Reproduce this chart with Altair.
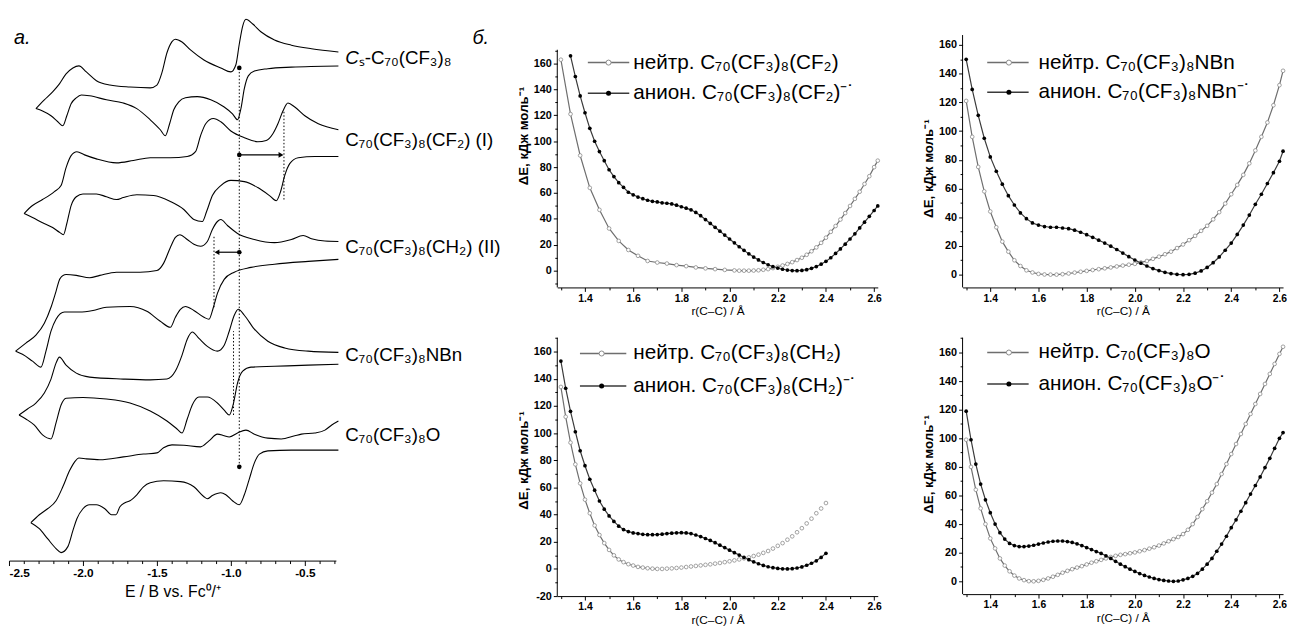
import altair as alt
import pandas as pd

SANS = "Liberation Sans"
NARROW = "Liberation Sans Narrow, Liberation Sans"

# ================= (a) cyclic voltammograms: E / V, I / a.u. =================
CS_TOP_E = [-2.318, -2.261, -2.205, -2.159, -2.114, -2.068, -2.027, -1.977, -1.909, -1.818, -1.682, -1.545, -1.500, -1.466, -1.432, -1.398, -1.375, -1.330, -1.273, -1.182, -1.068, -1.000, -0.966, -0.943, -0.920, -0.898, -0.852, -0.795, -0.705, -0.591, -0.455, -0.273]
CS_TOP_I = [113.3, 115.5, 117.5, 119.5, 122.0, 123.5, 124.0, 122.5, 120.3, 119.2, 118.7, 118.5, 119.2, 122.3, 127.3, 130.1, 130.7, 130.0, 128.0, 125.5, 123.5, 122.5, 124.3, 129.5, 134.0, 135.7, 134.5, 132.5, 130.5, 129.2, 128.3, 127.5]
CS_BOT_E = [-2.318, -2.273, -2.216, -2.170, -2.136, -2.109, -2.080, -2.045, -2.011, -1.955, -1.841, -1.727, -1.636, -1.545, -1.477, -1.443, -1.414, -1.386, -1.352, -1.307, -1.227, -1.136, -1.045, -0.989, -0.955, -0.932, -0.909, -0.882, -0.841, -0.750, -0.591, -0.273]
CS_BOT_I = [113.3, 112.7, 111.5, 110.0, 109.0, 111.5, 114.5, 116.0, 116.7, 116.5, 115.5, 114.7, 113.3, 110.5, 108.0, 106.5, 109.5, 113.0, 115.0, 116.0, 116.3, 115.5, 113.7, 112.0, 110.5, 113.3, 118.3, 121.5, 122.7, 123.3, 123.7, 124.0]

CF2_TOP_E = [-2.398, -2.341, -2.273, -2.193, -2.148, -2.114, -2.080, -2.041, -1.989, -1.909, -1.773, -1.659, -1.545, -1.409, -1.295, -1.239, -1.205, -1.170, -1.118, -1.068, -1.000, -0.909, -0.818, -0.761, -0.716, -0.682, -0.648, -0.614, -0.568, -0.500, -0.409, -0.273]
CF2_TOP_I = [87.0, 89.0, 90.5, 92.5, 94.0, 98.5, 101.5, 102.5, 101.7, 100.7, 99.7, 100.3, 101.0, 101.0, 101.3, 102.5, 106.5, 109.5, 110.8, 110.0, 107.7, 106.0, 105.0, 105.3, 107.0, 109.5, 112.7, 114.7, 113.7, 111.5, 109.5, 108.0]
CF2_BOT_E = [-2.398, -2.341, -2.273, -2.205, -2.159, -2.132, -2.109, -2.080, -2.045, -2.000, -1.909, -1.841, -1.773, -1.727, -1.636, -1.523, -1.409, -1.318, -1.250, -1.193, -1.164, -1.125, -1.068, -1.000, -0.909, -0.818, -0.739, -0.693, -0.664, -0.636, -0.602, -0.545, -0.432, -0.273]
CF2_BOT_I = [87.0, 86.0, 84.7, 83.5, 82.3, 81.7, 84.5, 89.0, 91.2, 91.9, 91.9, 91.2, 90.5, 91.0, 91.7, 91.5, 90.0, 88.0, 85.5, 85.0, 87.5, 91.5, 94.0, 95.3, 95.0, 93.5, 91.5, 90.2, 92.5, 96.5, 99.5, 101.0, 101.3, 101.3]

CH2_TOP_E = [-2.455, -2.386, -2.318, -2.261, -2.216, -2.182, -2.155, -2.114, -2.045, -1.955, -1.886, -1.773, -1.614, -1.500, -1.455, -1.409, -1.375, -1.345, -1.295, -1.250, -1.205, -1.159, -1.125, -1.091, -1.068, -1.023, -0.955, -0.841, -0.705, -0.591, -0.511, -0.455, -0.364, -0.273]
CH2_TOP_I = [52.5, 54.5, 56.5, 59.5, 63.5, 67.5, 70.7, 71.7, 71.5, 70.9, 71.5, 72.3, 72.3, 72.7, 74.5, 78.5, 81.0, 81.7, 80.5, 79.3, 78.8, 80.0, 83.0, 85.0, 85.5, 84.0, 82.0, 80.5, 79.7, 80.5, 81.5, 80.7, 80.1, 80.0]
CH2_BOT_E = [-2.455, -2.409, -2.341, -2.284, -2.250, -2.216, -2.182, -2.125, -2.023, -1.932, -1.841, -1.682, -1.568, -1.477, -1.409, -1.375, -1.341, -1.307, -1.250, -1.182, -1.148, -1.118, -1.091, -1.045, -0.977, -0.864, -0.705, -0.477, -0.273]
CH2_BOT_I = [52.5, 51.7, 50.0, 48.5, 52.5, 57.5, 60.5, 62.3, 62.3, 62.7, 63.5, 63.7, 62.5, 60.0, 58.5, 61.0, 63.0, 63.7, 62.7, 61.0, 60.5, 63.5, 67.0, 70.5, 72.3, 73.5, 74.3, 75.0, 75.5]

NBN_TOP_E = [-2.432, -2.375, -2.318, -2.261, -2.216, -2.182, -2.159, -2.114, -2.045, -1.955, -1.727, -1.545, -1.432, -1.375, -1.330, -1.295, -1.261, -1.216, -1.159, -1.091, -1.045, -1.011, -0.977, -0.950, -0.909, -0.841, -0.750, -0.636, -0.477, -0.273]
NBN_TOP_I = [36.5, 38.0, 39.5, 42.0, 45.5, 49.5, 51.0, 49.0, 47.0, 46.0, 45.5, 45.3, 45.5, 47.5, 51.5, 55.5, 57.3, 55.7, 53.7, 52.5, 54.0, 57.5, 61.5, 63.0, 61.5, 58.0, 55.0, 53.3, 52.5, 52.2]
NBN_BOT_E = [-2.432, -2.386, -2.330, -2.273, -2.216, -2.182, -2.148, -2.114, -2.000, -1.841, -1.682, -1.545, -1.432, -1.364, -1.330, -1.295, -1.261, -1.216, -1.159, -1.091, -1.045, -1.011, -0.982, -0.955, -0.920, -0.864, -0.705, -0.477, -0.273]
NBN_BOT_I = [36.5, 35.5, 34.0, 31.5, 30.5, 34.5, 39.0, 40.7, 40.9, 40.5, 39.5, 37.5, 35.0, 33.0, 32.0, 35.5, 39.0, 41.0, 41.0, 39.5, 37.7, 36.5, 39.5, 44.5, 47.5, 48.5, 48.7, 49.0, 49.2]

O_TOP_E = [-2.352, -2.295, -2.239, -2.182, -2.136, -2.091, -2.057, -2.027, -1.977, -1.886, -1.727, -1.591, -1.500, -1.455, -1.398, -1.318, -1.205, -1.148, -1.091, -1.045, -1.011, -0.955, -0.898, -0.841, -0.750, -0.659, -0.568, -0.523, -0.432, -0.364, -0.318, -0.273]
O_TOP_I = [9.5, 11.5, 13.0, 15.0, 18.5, 22.5, 24.7, 25.7, 25.5, 25.3, 26.0, 26.7, 27.0, 28.3, 29.0, 28.9, 28.5, 30.0, 31.7, 31.3, 31.0, 32.0, 32.7, 31.7, 30.7, 30.5, 31.3, 31.7, 32.0, 32.7, 34.0, 35.0]
O_BOT_E = [-2.352, -2.295, -2.239, -2.182, -2.148, -2.102, -2.068, -2.041, -2.000, -1.955, -1.909, -1.852, -1.807, -1.777, -1.750, -1.716, -1.682, -1.636, -1.591, -1.545, -1.455, -1.341, -1.250, -1.182, -1.159, -1.125, -1.068, -1.034, -0.989, -0.943, -0.909, -0.875, -0.841, -0.807, -0.750, -0.591, -0.273]
O_BOT_I = [9.5, 8.0, 5.5, 3.0, 2.0, 3.5, 7.5, 10.5, 13.0, 14.0, 14.0, 13.0, 11.5, 11.5, 13.5, 14.5, 15.0, 16.5, 18.5, 19.5, 20.0, 19.8, 18.5, 16.0, 15.5, 16.3, 17.0, 16.5, 15.0, 14.0, 16.5, 20.5, 24.5, 26.7, 27.5, 27.7, 27.7]

E_TICKS = [-2.5, -2.4, -2.3, -2.2, -2.1, -2.0, -1.9, -1.8, -1.7, -1.6, -1.5, -1.4, -1.3, -1.2, -1.1, -1.0, -0.9, -0.8, -0.7, -0.6, -0.5, -0.4, -0.3]

# dotted guide lines (E, I from, I to), reference dots, arrows
DOT_E = [-0.943, -0.641, -1.114, -0.982]
DOT_I1 = [23.5, 90.5, 63.5, 36.5]
DOT_I2 = [123.5, 113.0, 81.5, 57.5]
REF_E = [-0.943, -0.943, -0.943, -0.943]
REF_I = [123.5, 101.7, 77.3, 23.5]
ARROW_E0 = [-0.943, -0.943]
ARROW_E1 = [-0.661, -1.094]
ARROW_I = [101.7, 77.3]
ARROW_DIR = ["right", "left"]

LABEL_E = -0.227
LABEL_I = [105.5, 78.5, 51.5, 31.5]
LABEL_TEXT = ["C₇₀(CF₃)₈(CF₂) (I)", "C₇₀(CF₃)₈(CH₂) (II)", "C₇₀(CF₃)₈NBn", "C₇₀(CF₃)₈O"]
FIRST_LABEL_I = 126.0
FIRST_LABEL_TAIL = "ₛ-C₇₀(CF₃)₈"
PANEL_LETTER = ["а.", "б."]
PANEL_LETTER_E = [-2.466, 0.633]
PANEL_LETTER_I = [131.0, 131.0]

# ================= (б) energy profiles: r(C-C) / Å, ΔE / кДж моль-1 =================
R_TICKS = [1.3, 1.4, 1.5, 1.6, 1.7, 1.8, 1.9, 2.0, 2.1, 2.2, 2.3, 2.4, 2.5, 2.6]

CF2_NEU_R = [1.30, 1.34, 1.38, 1.42, 1.46, 1.50, 1.54, 1.58, 1.62, 1.66, 1.70, 1.74, 1.78, 1.82, 1.86, 1.90, 1.94, 1.98, 2.02,
             2.04, 2.06, 2.08, 2.10, 2.12, 2.14, 2.16, 2.18, 2.20, 2.22, 2.24, 2.26, 2.28, 2.30, 2.32, 2.34, 2.36, 2.38,
             2.40, 2.42, 2.44, 2.46, 2.48, 2.50, 2.52, 2.54, 2.56, 2.58, 2.60, 2.615]
CF2_NEU_E = [163, 121, 89, 64, 47, 32.6, 23, 16, 11.5, 7.5, 6.3, 5.5, 4.3, 3.5, 2.5, 1.8, 1.2, 0.6, 0.2,
             0, 0, 0, 0.1, 0.3, 0.7, 1.2, 2, 3, 4, 5.2, 6.6, 8.2, 10, 12.3, 15, 18, 21.5,
             25.5, 30, 34.5, 39.5, 44.5, 50, 55.5, 61, 67, 73, 80, 85]
CF2_ANI_R = [1.34, 1.36, 1.38, 1.40, 1.42, 1.44, 1.46, 1.48, 1.50, 1.52, 1.54, 1.56, 1.58, 1.60, 1.62, 1.64, 1.66, 1.68,
             1.70, 1.72, 1.74, 1.76, 1.78, 1.80, 1.82, 1.84, 1.86, 1.88, 1.90, 1.92, 1.94, 1.96, 1.98, 2.00, 2.02, 2.04,
             2.06, 2.08, 2.10, 2.12, 2.14, 2.16, 2.18, 2.20, 2.22, 2.24, 2.26, 2.28, 2.30, 2.32, 2.34, 2.36, 2.38, 2.40,
             2.42, 2.44, 2.46, 2.48, 2.50, 2.52, 2.54, 2.56, 2.58, 2.60, 2.615]
CF2_ANI_E = [166, 150, 135, 122, 110, 100, 92, 85, 78, 72.7, 68, 64.4, 60.6, 58.6, 56.9, 55.6, 54.4, 53.6,
             53.1, 52.4, 52.1, 51.6, 50.6, 49.4, 48.3, 47, 45, 42.5, 39.5, 36.5, 33.5, 30.5, 27.5, 24.5, 21.5, 18.5,
             15.7, 13, 10.5, 8.3, 6.3, 4.6, 3.1, 2, 1.1, 0.5, 0.1, 0, 0.2, 0.8, 1.8, 3.2, 5, 7.2,
             10, 13.3, 16.8, 20.5, 24.5, 28.5, 33, 37.5, 42, 46.5, 50]

NBN_R = [1.300, 1.325, 1.350, 1.375, 1.400, 1.425, 1.450, 1.475, 1.500, 1.525, 1.550, 1.575, 1.600, 1.625, 1.650,
         1.675, 1.700, 1.725, 1.750, 1.775, 1.800, 1.825, 1.850, 1.875, 1.900, 1.925, 1.950, 1.975, 2.000, 2.025,
         2.050, 2.075, 2.100, 2.125, 2.150, 2.175, 2.200, 2.225, 2.250, 2.275, 2.300, 2.325, 2.350, 2.375, 2.400,
         2.425, 2.450, 2.475, 2.500, 2.525, 2.550, 2.575, 2.600, 2.615]
NBN_NEU_E = [121, 96, 75, 58, 44, 33, 23, 16, 10, 6, 3, 1.5, 0.5, 0.1, 0,
             0, 0.3, 0.8, 1.4, 2, 2.6, 3.2, 3.8, 4.4, 5, 5.7, 6.3, 6.9, 7.5, 8.5,
             9.5, 11, 12.5, 14.2, 16, 18.5, 21, 24, 27, 30.5, 34, 38.5, 43.5, 49.5, 56,
             62.5, 69.5, 77.5, 86.5, 96, 106, 118, 132, 142]
NBN_ANI_E = [150, 129, 111, 95, 82, 72, 63, 55, 48.5, 43, 39, 36, 34.5, 33.5, 33,
             33, 32.5, 32, 31, 29.5, 27.8, 26, 24, 22, 19.8, 17.5, 15, 12.5, 10.2, 8,
             6, 4.2, 2.8, 1.6, 0.7, 0.2, 0, 0.2, 1, 2.6, 5, 8.3, 12.3, 17, 22,
             28, 34.5, 41.5, 49, 56, 63.5, 71, 79, 86]

CH2_R = [1.30, 1.32, 1.34, 1.36, 1.38, 1.40, 1.42, 1.44, 1.46, 1.48, 1.50, 1.52, 1.54, 1.56, 1.58, 1.60, 1.62, 1.64,
         1.66, 1.68, 1.70, 1.72, 1.74, 1.76, 1.78, 1.80, 1.82, 1.84, 1.86, 1.88, 1.90, 1.92, 1.94, 1.96, 1.98, 2.00,
         2.02, 2.04, 2.06, 2.08, 2.10, 2.12, 2.14, 2.16, 2.18, 2.20, 2.22, 2.24, 2.26, 2.28, 2.30, 2.32, 2.34, 2.36,
         2.38, 2.40]
CH2_NEU_E = [134, 112, 93, 77, 63, 51, 41, 32, 25, 19, 14, 10, 7, 5, 3.5, 2.5, 1.5, 1,
             0.5, 0.2, 0, 0, 0.2, 0.4, 0.7, 1, 1.4, 1.8, 2.2, 2.6, 3, 3.4, 3.9, 4.4, 5, 5.6,
             6.3, 7, 7.8, 8.5, 9.5, 10.5, 11.8, 13.2, 15, 17, 19, 21.5, 24, 27, 30, 33.5, 37, 41,
             44.5, 48.5]
CH2_ANI_E = [153, 133, 116, 101, 87, 76, 66, 58, 50, 44, 39, 35, 31.5, 29, 27.5, 26.5, 26, 25.5,
             25.2, 25.2, 25.3, 25.6, 26, 26.3, 26.6, 26.7, 26.5, 26, 25, 23.8, 22.4, 21, 19.3, 17.5, 15.7, 13.8,
             12, 10.2, 8.5, 6.8, 5.2, 3.8, 2.6, 1.6, 0.9, 0.4, 0.1, 0, 0.2, 0.7, 1.5, 2.7, 4.2, 6,
             8.5, 11.5]

O_R = [1.30, 1.32, 1.34, 1.36, 1.38, 1.40, 1.42, 1.44, 1.46, 1.48, 1.50, 1.52, 1.54, 1.56, 1.58, 1.60, 1.62, 1.64,
       1.66, 1.68, 1.70, 1.72, 1.74, 1.76, 1.78, 1.80, 1.82, 1.84, 1.86, 1.88, 1.90, 1.92, 1.94, 1.96, 1.98, 2.00,
       2.02, 2.04, 2.06, 2.08, 2.10, 2.12, 2.14, 2.16, 2.18, 2.20, 2.22, 2.24, 2.26, 2.28, 2.30, 2.32, 2.34, 2.36,
       2.38, 2.40, 2.42, 2.44, 2.46, 2.48, 2.50, 2.52, 2.54, 2.56, 2.58, 2.60, 2.615]
O_NEU_E = [99, 80, 64, 51, 40, 30, 23, 16, 11, 7, 4, 2, 0.8, 0.1, 0, 0.3, 1, 2,
           3.2, 4.5, 6, 7.3, 8.5, 9.6, 10.6, 11.8, 13, 14, 15, 16, 17, 17.8, 18.5, 19, 19.6, 20.2,
           21, 21.8, 22.8, 23.8, 25, 26.5, 28, 29.5, 31, 33, 36, 40, 45, 50.5, 56, 62, 68, 75,
           82, 89, 96, 103, 110, 117, 124, 131, 138, 145, 152, 159, 164]
O_ANI_E = [119, 99, 82, 68, 57, 48, 40, 34, 29.5, 26.5, 25, 24.3, 24.3, 24.6, 25.2, 26, 26.8, 27.5,
           28, 28.2, 28.2, 27.8, 27.2, 26.2, 25, 23.6, 22.2, 20.8, 19.5, 17.8, 16, 14, 12, 10.2, 8.5, 6.9,
           5.4, 4.1, 3, 2, 1.2, 0.6, 0.2, 0, 0.2, 1, 2, 3.5, 5.5, 8.5, 12, 16, 21, 26,
           31.5, 37.5, 43, 49, 55, 61, 67, 73, 79.5, 86, 93, 100, 104]

Y_TICKS_TL = [-10, 0, 10, 20, 30, 40, 50, 60, 70, 80, 90, 100, 110, 120, 130, 140, 150, 160, 170]
Y_TICKS_TR = [0, 10, 20, 30, 40, 50, 60, 70, 80, 90, 100, 110, 120, 130, 140, 150, 160]
Y_TICKS_BL = [-20, -10, 0, 10, 20, 30, 40, 50, 60, 70, 80, 90, 100, 110, 120, 130, 140, 150, 160, 170]
Y_TICKS_BR = [0, 10, 20, 30, 40, 50, 60, 70, 80, 90, 100, 110, 120, 130, 140, 150, 160, 170]

LEG_CF2 = ["нейтр. C₇₀(CF₃)₈(CF₂)", "анион. C₇₀(CF₃)₈(CF₂)⁻˙"]
LEG_NBN = ["нейтр. C₇₀(CF₃)₈NBn", "анион. C₇₀(CF₃)₈NBn⁻˙"]
LEG_CH2 = ["нейтр. C₇₀(CF₃)₈(CH₂)", "анион. C₇₀(CF₃)₈(CH₂)⁻˙"]
LEG_O = ["нейтр. C₇₀(CF₃)₈O", "анион. C₇₀(CF₃)₈O⁻˙"]

NEU_LINE = "#6e6e6e"
NEU_EDGE = "#8a8a8a"
ANI_LINE = "#3a3a3a"

# ================= build panel (a) =================
CURVES = [
    ("Cs", CS_TOP_E, CS_TOP_I, CS_BOT_E, CS_BOT_I),
    ("CF2", CF2_TOP_E, CF2_TOP_I, CF2_BOT_E, CF2_BOT_I),
    ("CH2", CH2_TOP_E, CH2_TOP_I, CH2_BOT_E, CH2_BOT_I),
    ("NBn", NBN_TOP_E, NBN_TOP_I, NBN_BOT_E, NBN_BOT_I),
    ("O", O_TOP_E, O_TOP_I, O_BOT_E, O_BOT_I),
]
rows = []
for name, te, ti, be, bi in CURVES:
    for branch, es, vs in (("top", te, ti), ("bottom", be, bi)):
        for k, (e, v) in enumerate(zip(es, vs)):
            rows.append({"key": name + "-" + branch, "k": k, "E": e, "I": v})
cv_df = pd.DataFrame(rows)

xa = alt.Scale(domain=[-2.5, -0.29], nice=False, zero=False)
ya = alt.Scale(domain=[0, 136.2], nice=False, zero=False)
MAJ_A = "abs(round(datum.value * 10)) % 5 === 0"
axis_a = alt.Axis(
    values=E_TICKS,
    labelExpr=MAJ_A + " ? replace(format(datum.value, '.1f'), '\u2212', '-') : ''",
    tickSize={"condition": {"test": MAJ_A, "value": 5}, "value": 3},
    labelOverlap=False, labelFont=SANS, labelFontSize=12, labelFontWeight="bold",
    labelColor="black", labelPadding=2,
    title="E / В vs. Fc⁰/⁺", titleFont=SANS, titleFontSize=16, titleFontWeight="normal",
    titleColor="black", titlePadding=5,
    domainColor="black", tickColor="black", grid=False,
)
XA = alt.X("E:Q", scale=xa, axis=axis_a)
YA = alt.Y("I:Q", scale=ya, axis=None)

cv = alt.Chart(cv_df).mark_line(color="black", strokeWidth=1.1, interpolate="monotone").encode(
    x=XA, y=YA, detail="key:N", order="k:Q")

dotted = alt.Chart(pd.DataFrame({"E": DOT_E, "I": DOT_I1, "I2": DOT_I2})).mark_rule(
    color="black", strokeWidth=1, strokeDash=[1.5, 2]).encode(x=XA, y=YA, y2="I2:Q")

refdots = alt.Chart(pd.DataFrame({"E": REF_E, "I": REF_I})).mark_circle(
    color="black", size=22, opacity=1).encode(x=XA, y=YA)

arr_df = pd.DataFrame({"E": ARROW_E0, "E1": ARROW_E1, "I": ARROW_I, "dir": ARROW_DIR})
shafts = alt.Chart(arr_df).mark_rule(color="black", strokeWidth=1.2).encode(x=XA, x2="E1:Q", y=YA)
heads = alt.Chart(arr_df).mark_point(filled=True, color="black", size=32, opacity=1).encode(
    x=alt.X("E1:Q", scale=xa, axis=axis_a), y=YA,
    shape=alt.Shape("dir:N", scale=alt.Scale(domain=["right", "left"], range=["triangle-right", "triangle-left"]), legend=None))

labels = alt.Chart(pd.DataFrame({"E": [LABEL_E] * len(LABEL_I), "I": LABEL_I, "t": LABEL_TEXT})).mark_text(
    align="left", baseline="middle", font=SANS, fontSize=19, color="black").encode(x=XA, y=YA, text="t:N")
first_c = alt.Chart(pd.DataFrame({"E": [LABEL_E], "I": [FIRST_LABEL_I], "t": ["C"]})).mark_text(
    align="left", baseline="middle", font=SANS, fontSize=19, fontStyle="italic", color="black").encode(x=XA, y=YA, text="t:N")
first_tail = alt.Chart(pd.DataFrame({"E": [LABEL_E], "I": [FIRST_LABEL_I], "t": [FIRST_LABEL_TAIL]})).mark_text(
    align="left", baseline="middle", font=SANS, fontSize=19, color="black", dx=13.7).encode(x=XA, y=YA, text="t:N")
letters = alt.Chart(pd.DataFrame({"E": PANEL_LETTER_E, "I": PANEL_LETTER_I, "t": PANEL_LETTER})).mark_text(
    align="left", baseline="middle", font=SANS, fontSize=20, fontStyle="italic", color="black").encode(x=XA, y=YA, text="t:N")

panel_a = alt.layer(cv, dotted, refdots, shafts, heads, labels, first_c, first_tail, letters).properties(
    width=331.5, height=551)

# ================= build panels (б) =================
MAJ_R = "round(datum.value * 10) % 2 === 0"
MAJ_Y = "datum.value % 20 === 0"


def energy_panel(r_neu, e_neu, r_ani, e_ani, ydom, axis_top, yticks, title_y, texts, leg, height,
                 neu_line_max=9.0):
    xs = alt.Scale(domain=[1.285, 2.615], nice=False, zero=False)
    ys = alt.Scale(domain=ydom, nice=False, zero=False)
    xaxis = alt.Axis(
        values=R_TICKS, labelExpr=MAJ_R + " ? format(datum.value, '.1f') : ''",
        tickSize={"condition": {"test": MAJ_R, "value": 4}, "value": 2.5},
        labelOverlap=False, labelFont=NARROW, labelFontSize=10.5, labelFontWeight="bold",
        labelColor="black", labelPadding=2,
        title="r(C–C) / Å", titleFont=SANS, titleFontSize=12, titleFontWeight="normal",
        titleColor="black", titlePadding=2,
        domainColor="black", tickColor="black", grid=False)
    yaxis = alt.Axis(
        values=yticks, labelExpr=MAJ_Y + " ? replace(format(datum.value, 'd'), '\u2212', '-') : ''",
        tickSize={"condition": {"test": MAJ_Y, "value": 4}, "value": 2.5},
        labelOverlap=False, labelFont=NARROW, labelFontSize=11, labelFontWeight="bold",
        labelColor="black", labelPadding=2, domain=False,
        title="ΔE, кДж моль⁻¹", titleFont=NARROW, titleFontSize=13.5, titleFontWeight="bold",
        titleColor="black", titlePadding=3, titleY=title_y,
        tickColor="black", grid=False)
    X = alt.X("r:Q", scale=xs, axis=xaxis)
    Y = alt.Y("E:Q", scale=ys, axis=yaxis)
    neu = pd.DataFrame({"r": r_neu, "E": e_neu})
    ani = pd.DataFrame({"r": r_ani, "E": e_ani})
    layers = [
        alt.Chart(pd.DataFrame({"E": [axis_top], "lo": [ydom[0]]})).mark_rule(color="black", strokeWidth=1).encode(
            x=alt.value(0), y=Y, y2="lo:Q"),
        alt.Chart(neu).transform_filter(alt.datum.r <= neu_line_max).mark_line(
            color=NEU_LINE, strokeWidth=1.2).encode(x=X, y=Y),
        alt.Chart(ani).mark_line(color=ANI_LINE, strokeWidth=1.2).encode(x=X, y=Y),
        alt.Chart(neu).mark_point(shape="circle", filled=True, fill="white", stroke=NEU_EDGE, strokeWidth=0.8,
                                  size=14, opacity=1).encode(x=X, y=Y),
        alt.Chart(ani).mark_circle(color="black", size=14, opacity=1).encode(x=X, y=Y),
    ]
    lx1, lx2, lcx, tx, y1, y2 = leg
    one = pd.DataFrame({"n": [0]})
    layers += [
        alt.Chart(one).mark_rule(color=NEU_LINE, strokeWidth=1.5).encode(
            x=alt.value(lx1), x2=alt.value(lx2), y=alt.value(y1)),
        alt.Chart(one).mark_point(shape="circle", filled=True, fill="white", stroke=NEU_EDGE, strokeWidth=1,
                                  size=26, opacity=1).encode(x=alt.value(lcx), y=alt.value(y1)),
        alt.Chart(one).mark_text(align="left", baseline="middle", font=SANS, fontSize=21, color="black").encode(
            x=alt.value(tx), y=alt.value(y1), text=alt.value(texts[0])),
        alt.Chart(one).mark_rule(color=ANI_LINE, strokeWidth=1.5).encode(
            x=alt.value(lx1), x2=alt.value(lx2), y=alt.value(y2)),
        alt.Chart(one).mark_circle(color="black", size=26, opacity=1).encode(x=alt.value(lcx), y=alt.value(y2)),
        alt.Chart(one).mark_text(align="left", baseline="middle", font=SANS, fontSize=21, color="black").encode(
            x=alt.value(tx), y=alt.value(y2), text=alt.value(texts[1])),
    ]
    return alt.layer(*layers).properties(width=325, height=height)


tl = energy_panel(CF2_NEU_R, CF2_NEU_E, CF2_ANI_R, CF2_ANI_E, [-12.95, 195.8], 170.7, Y_TICKS_TL, 120,
                  LEG_CF2, (31, 73, 52, 77, 46, 77), 274)
tr = energy_panel(NBN_R, NBN_NEU_E, NBN_R, NBN_ANI_E, [-8.93, 179.3], 166.9, Y_TICKS_TR, 153,
                  LEG_NBN, (25, 67, 47, 77, 46, 76), 274)
bl = energy_panel(CH2_R, CH2_NEU_E, CH2_R, CH2_ANI_E, [-20, 170.2], 170.2, Y_TICKS_BL, 124,
                  LEG_CH2, (23, 70, 45, 77, 16, 49), 262, neu_line_max=1.70)
br = energy_panel(O_R, O_NEU_E, O_R, O_ANI_E, [-8.97, 171.7], 170.3, Y_TICKS_BR, 130,
                  LEG_O, (25, 67, 47, 77, 17, 49), 262)

col1 = alt.vconcat(tl, bl, spacing=15)
col2 = alt.vconcat(tr, br, spacing=15)
right = alt.hconcat(col1, col2, spacing=40)

chart = alt.hconcat(panel_a, right, spacing=15).properties(
    padding={"left": 0, "top": 4, "right": 0, "bottom": 0}
).configure(font=SANS).configure_view(strokeOpacity=0).configure_axis(grid=False)

chart.save("out.html", embed_options={"renderer": "svg", "actions": False})
